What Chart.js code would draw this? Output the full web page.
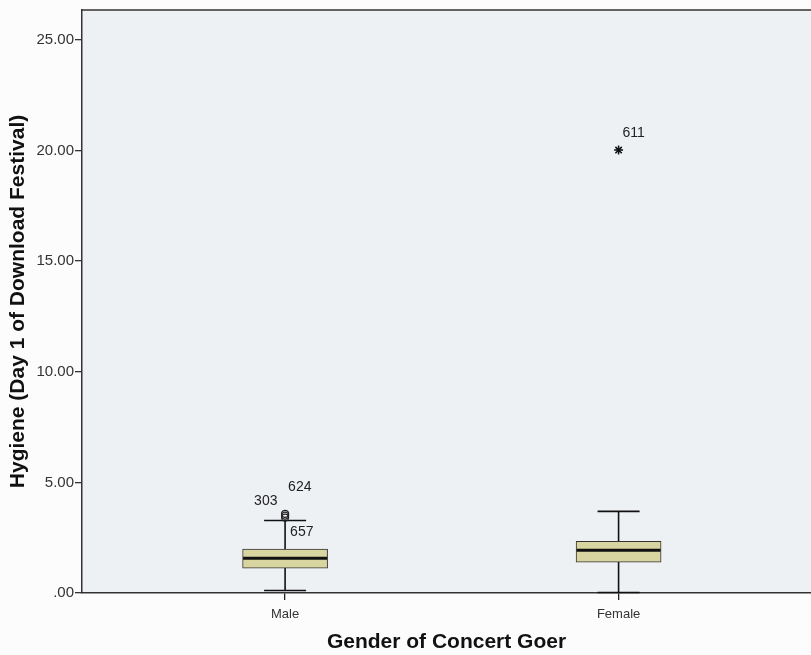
<!DOCTYPE html>
<html>
<head>
<meta charset="utf-8">
<script src="https://cdn.jsdelivr.net/npm/chart.js@4/dist/chart.umd.min.js"></script>
<style>
  html, body { margin: 0; padding: 0; background: #fcfcfc; }
  #wrap { width: 811px; height: 655px; }
</style>
</head>
<body>
<div id="wrap"><canvas id="c" width="811" height="655"></canvas></div>
<script>
// ---- data ----
const categories = ["Male", "Female"];
const whiskerLow = [0.11, 0.02];
const q1 = [1.12, 1.39];
const median = [1.57, 1.93];
const q3 = [1.98, 2.34];
const whiskerHigh = [3.28, 3.69];
const yTicks = [0, 5, 10, 15, 20, 25];
// outliers: category index, value, case label
const outlierCat = [0, 0, 0];
const outlierVal = [3.58, 3.50, 3.41];
const outlierId = ["624", "303", "657"];
const extremeCat = [1];
const extremeVal = [20.02];
const extremeId = ["611"];

const catPos = categories.map((_, i) => i + 1);

const FONT = "'Liberation Sans', Arial, sans-serif";

const boxPlugin = {
  id: 'boxParts',
  beforeDraw(chart) {
    const { ctx, chartArea: a } = chart;
    ctx.save();
    ctx.fillStyle = '#eef1f4';
    ctx.fillRect(a.left, a.top, a.right - a.left, a.bottom - a.top);
    ctx.strokeStyle = '#333';
    ctx.lineWidth = 1.5;
    ctx.beginPath();
    ctx.moveTo(a.left, a.top);
    ctx.lineTo(a.right, a.top);
    ctx.stroke();
    ctx.restore();
  },
  beforeDatasetsDraw(chart) {
    const { ctx, scales: { x, y } } = chart;
    ctx.save();
    ctx.strokeStyle = '#111';
    ctx.lineWidth = 1.6;
    catPos.forEach((p, i) => {
      const px = x.getPixelForValue(p);
      const capHalf = 21;
      ctx.beginPath();
      ctx.moveTo(px, y.getPixelForValue(whiskerLow[i]));
      ctx.lineTo(px, y.getPixelForValue(whiskerHigh[i]));
      [whiskerLow[i], whiskerHigh[i]].forEach(v => {
        const py = y.getPixelForValue(v);
        ctx.moveTo(px - capHalf, py);
        ctx.lineTo(px + capHalf, py);
      });
      ctx.stroke();
    });
    ctx.restore();
  },
  afterDatasetsDraw(chart) {
    const { ctx, scales: { x, y } } = chart;
    ctx.save();
    ctx.strokeStyle = '#111';
    ctx.lineWidth = 3;
    catPos.forEach((p, i) => {
      const px = x.getPixelForValue(p);
      const py = y.getPixelForValue(median[i]);
      ctx.beginPath();
      ctx.moveTo(px - 42, py);
      ctx.lineTo(px + 42, py);
      ctx.stroke();
    });
    // case labels
    ctx.fillStyle = '#222';
    ctx.font = '14px ' + FONT;
    ctx.textBaseline = 'middle';
    const offs = { "624": [3, -27], "303": [-31, -14], "657": [5, 15], "611": [4, -17] };
    outlierId.forEach((id, k) => {
      const px = x.getPixelForValue(catPos[outlierCat[k]]);
      const py = y.getPixelForValue(outlierVal[k]);
      const o = offs[id] || [5, -12];
      ctx.fillText(id, px + o[0], py + o[1]);
    });
    extremeId.forEach((id, k) => {
      const px = x.getPixelForValue(catPos[extremeCat[k]]);
      const py = y.getPixelForValue(extremeVal[k]);
      const o = offs[id] || [5, -12];
      ctx.fillText(id, px + o[0], py + o[1]);
    });
    ctx.restore();
  }
};

new Chart(document.getElementById('c'), {
  type: 'bar',
  data: {
    datasets: [
      {
        type: 'bar',
        data: catPos.map((p, i) => ({ x: p, y: [q1[i], q3[i]] })),
        backgroundColor: '#d8d5a0',
        borderColor: '#333',
        borderWidth: 1,
        borderSkipped: false,
        barThickness: 85
      },
      {
        type: 'scatter',
        data: outlierVal.map((v, k) => ({ x: catPos[outlierCat[k]], y: v })),
        pointStyle: 'circle',
        pointRadius: 3.5,
        borderColor: '#222',
        borderWidth: 1.3,
        backgroundColor: 'rgba(0,0,0,0)'
      },
      {
        type: 'scatter',
        data: extremeVal.map((v, k) => ({ x: catPos[extremeCat[k]], y: v })),
        pointStyle: 'star',
        pointRadius: 4.5,
        borderColor: '#111',
        borderWidth: 1.5,
        backgroundColor: '#111'
      }
    ]
  },
  options: {
    responsive: false,
    animation: false,
    events: [],
    layout: { autoPadding: false, padding: { top: 7, right: 0, left: 0, bottom: 0 } },
    plugins: { legend: { display: false }, tooltip: { enabled: false } },
    scales: {
      x: {
        type: 'linear',
        min: 0.391,
        max: 2.577,
        offset: false,
        afterBuildTicks: s => { s.ticks = catPos.map(v => ({ value: v })); },
        afterFit: s => { s.height = 62; },
        ticks: {
          callback: v => categories[v - 1] || '',
          color: '#333',
          font: { family: FONT, size: 13 },
          padding: 7,
          maxRotation: 0
        },
        grid: { offset: false, drawOnChartArea: false, drawTicks: true, tickLength: 7, color: '#222', lineWidth: 1.3 },
        border: { display: true, color: '#333', width: 1.5 },
        title: {
          display: true,
          text: 'Gender of Concert Goer',
          color: '#111',
          font: { family: FONT, size: 21, weight: 'bold' },
          padding: { top: 9, bottom: 0 }
        }
      },
      y: {
        type: 'linear',
        min: 0,
        max: 26.35,
        afterBuildTicks: s => { s.ticks = yTicks.map(v => ({ value: v })); },
        afterFit: s => { s.width = 82; },
        ticks: {
          callback: v => v === 0 ? '.00' : v.toFixed(2),
          color: '#333',
          font: { family: FONT, size: 15 },
          padding: 1
        },
        grid: { drawOnChartArea: false, drawTicks: true, tickLength: 7, color: '#333', lineWidth: 1.3 },
        border: { display: true, color: '#333', width: 1.5 },
        title: {
          display: true,
          text: 'Hygiene (Day 1 of Download Festival)',
          color: '#111',
          font: { family: FONT, size: 21, weight: 'bold' },
          padding: { top: 6, bottom: 4 }
        }
      }
    }
  },
  plugins: [boxPlugin]
});
</script>
</body>
</html>
